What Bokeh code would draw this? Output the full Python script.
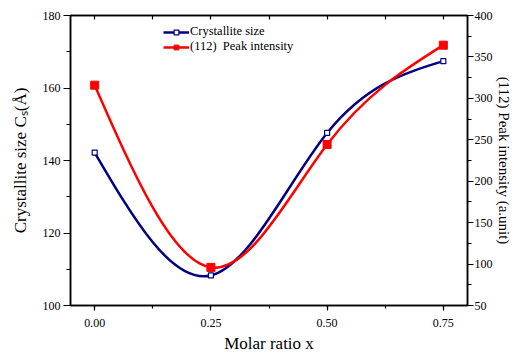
import numpy as np
from bokeh.plotting import figure
from bokeh.models import (Range1d, LinearAxis, SingleIntervalTicker, PrintfTickFormatter,
                          CustomJSTickFormatter, Legend, LegendItem, ColumnDataSource)
from bokeh.embed import file_html
from bokeh.resources import INLINE

# ---- data ----
molar_ratio = [0.00, 0.25, 0.50, 0.75]
crystallite_size = [142.2, 108.3, 147.6, 167.4]      # left axis (Å)
peak_intensity = [315.9, 96.0, 244.3, 364.2]          # right axis (a.unit)
series_names = ["Crystallite size", "(112)  Peak intensity"]

FONT = "Liberation Serif"
BLUE = "#000080"
RED = "#ff0000"


def spline_bezier(xs, ys):
    """Natural cubic spline through the points, as cubic Bezier segments."""
    x = np.asarray(xs, float)
    y = np.asarray(ys, float)
    n = len(x)
    h = np.diff(x)
    A = np.zeros((n, n))
    b = np.zeros(n)
    A[0, 0] = 1
    A[-1, -1] = 1
    for i in range(1, n - 1):
        A[i, i - 1] = h[i - 1]
        A[i, i] = 2 * (h[i - 1] + h[i])
        A[i, i + 1] = h[i]
        b[i] = 6 * ((y[i + 1] - y[i]) / h[i] - (y[i] - y[i - 1]) / h[i - 1])
    M = np.linalg.solve(A, b)
    d = dict(x0=[], y0=[], x1=[], y1=[], cx0=[], cy0=[], cx1=[], cy1=[])
    for i in range(n - 1):
        hi = h[i]
        s = (y[i + 1] - y[i]) / hi
        m0 = s - hi * (2 * M[i] + M[i + 1]) / 6
        m1 = s + hi * (M[i] + 2 * M[i + 1]) / 6
        d["x0"].append(x[i]); d["y0"].append(y[i])
        d["x1"].append(x[i + 1]); d["y1"].append(y[i + 1])
        d["cx0"].append(x[i] + hi / 3); d["cy0"].append(y[i] + hi * m0 / 3)
        d["cx1"].append(x[i + 1] - hi / 3); d["cy1"].append(y[i + 1] - hi * m1 / 3)
    return ColumnDataSource(d)


p = figure(width=517, height=355, output_backend="svg", toolbar_location=None,
           x_range=Range1d(-0.052, 0.802), y_range=Range1d(100, 180),
           min_border_left=70, min_border_right=50, min_border_top=15, min_border_bottom=50,
           x_axis_type=None, y_axis_type=None)
p.extra_y_ranges = {"right": Range1d(50, 400)}
p.xgrid.visible = False
p.ygrid.visible = False
p.outline_line_color = "black"
p.outline_line_width = 1.5
p.background_fill_color = "white"
p.border_fill_color = "white"


def style_axis(ax, interval, minor, fmt=None, label=None, tout=6, mout=3):
    ax.ticker = SingleIntervalTicker(interval=interval, num_minor_ticks=minor)
    if fmt is not None:
        ax.formatter = fmt
    ax.axis_line_color = "black"
    ax.axis_line_width = 1.5
    ax.major_tick_line_color = "black"
    ax.minor_tick_line_color = "black"
    ax.major_tick_line_width = 1.2
    ax.minor_tick_line_width = 1.2
    ax.major_tick_in = 0
    ax.major_tick_out = tout
    ax.minor_tick_in = 0
    ax.minor_tick_out = mout
    ax.major_label_text_font = FONT
    ax.major_label_text_font_size = "12px"
    ax.major_label_text_color = "black"
    ax.axis_label_text_font = FONT
    ax.axis_label_text_font_style = "normal"
    ax.axis_label_text_color = "black"
    if label is not None:
        ax.axis_label = label


# left axis
yl = LinearAxis()
style_axis(yl, 20, 2, label="Crystallite size Cₛ(Å)", tout=7, mout=4)
yl.axis_label_text_font_size = "17px"
yl.major_label_standoff = 3
yl.axis_label_standoff = 10
p.add_layout(yl, "left")

# right axis
yr = LinearAxis(y_range_name="right")
style_axis(yr, 50, 2, label="(112) Peak intensity (a.unit)", tout=6, mout=4)
yr.axis_label_text_font_size = "15px"
yr.major_label_standoff = 1
yr.axis_label_standoff = 0
p.add_layout(yr, "right")

# bottom axis
xb = LinearAxis()
style_axis(xb, 0.25, 2, fmt=PrintfTickFormatter(format="%.2f"), label="Molar ratio x", tout=5, mout=3)
xb.axis_label_text_font_size = "17px"
xb.major_label_standoff = 8
xb.axis_label_standoff = 4
p.add_layout(xb, "below")

# top axis (inward ticks only)
xt = LinearAxis()
style_axis(xt, 0.125, 0, fmt=CustomJSTickFormatter(code="return ''"))
xt.major_tick_out = 0
xt.major_tick_in = 4
xt.minor_tick_out = 0
xt.major_label_text_font_size = "0px"
xt.major_label_standoff = 0
p.add_layout(xt, "above")

# curves
src_b = spline_bezier(molar_ratio, crystallite_size)
src_r = spline_bezier(molar_ratio, peak_intensity)
bz_b = p.bezier(x0="x0", y0="y0", x1="x1", y1="y1", cx0="cx0", cy0="cy0", cx1="cx1", cy1="cy1",
                source=src_b, line_color=BLUE, line_width=2.5)
bz_r = p.bezier(x0="x0", y0="y0", x1="x1", y1="y1", cx0="cx0", cy0="cy0", cx1="cx1", cy1="cy1",
                source=src_r, line_color=RED, line_width=2.5, y_range_name="right")

sc_r = p.scatter(molar_ratio, peak_intensity, marker="square", size=8,
                 fill_color=RED, line_color=RED, y_range_name="right")
sc_b = p.scatter(molar_ratio, crystallite_size, marker="square", size=5,
                 fill_color="white", line_color=BLUE, line_width=1.2)

legend = Legend(items=[LegendItem(label=series_names[0], renderers=[bz_b, sc_b]),
                       LegendItem(label=series_names[1], renderers=[bz_r, sc_r])],
                location=(93, 251), orientation="vertical")
legend.border_line_alpha = 0
legend.background_fill_alpha = 0
legend.label_text_font = FONT
legend.label_text_font_size = "12.5px"
legend.label_text_color = "black"
legend.glyph_width = 26
legend.glyph_height = 12
legend.label_height = 12
legend.label_standoff = 1
legend.spacing = -2
legend.padding = 0
legend.margin = 0
p.add_layout(legend, "center")

open("out.html", "w").write(file_html(p, INLINE))
